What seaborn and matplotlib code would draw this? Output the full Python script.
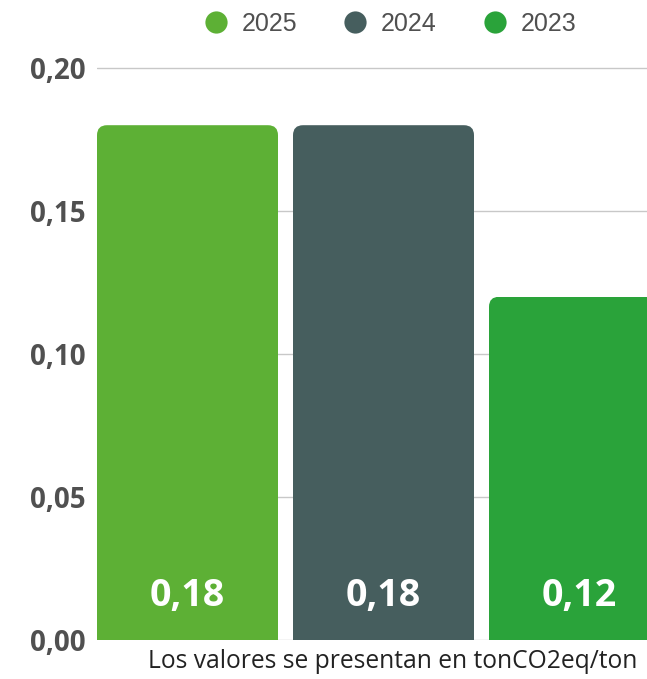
import matplotlib
matplotlib.use("Agg")
import matplotlib.pyplot as plt
import seaborn as sns
import pandas as pd
from matplotlib.patches import FancyBboxPatch
from matplotlib.transforms import IdentityTransform
from matplotlib.lines import Line2D
from matplotlib.ticker import FuncFormatter, MultipleLocator

# ---- data ----
years = ["2025", "2024", "2023"]
values = [0.18, 0.18, 0.12]
colors = ["#5db035", "#465e5e", "#2aa33a"]
note = "Los valores se presentan en tonCO2eq/ton"

sns.set_theme(style="white")
plt.rcParams["font.family"] = ["Open Sans", "DejaVu Sans"]

W, H = 647, 679
fig = plt.figure(figsize=(W / 100, H / 100), dpi=100)

ymax = 0.205
ax_left = 97 / W
ax_bottom = (H - 640) / H
ax_height = (572 * ymax / 0.2) / H
ax = fig.add_axes([ax_left, ax_bottom, 1 - ax_left, ax_height])

df = pd.DataFrame({"year": years, "value": values})
bar_w = 181 / 196
sns.barplot(data=df, x="year", y="value", hue="year", palette=colors,
            width=bar_w, legend=False, ax=ax, saturation=1, zorder=2)

x0 = -bar_w / 2
ax.set_xlim(x0, x0 + (W - 97) / 196)
ax.set_ylim(0, ymax)
ax.yaxis.set_major_locator(MultipleLocator(0.05))
ax.yaxis.set_major_formatter(FuncFormatter(lambda v, p: f"{v:.2f}".replace(".", ",")))
ax.grid(axis="y", color="#c8c8c8", linewidth=1, zorder=0)
ax.set_axisbelow(True)
for s in ax.spines.values():
    s.set_visible(False)
ax.set_xlabel("")
ax.set_ylabel("")
ax.set_xticks([])
ax.tick_params(axis="y", length=0, pad=8, labelsize=20, labelcolor="#505050")
for lbl in ax.get_yticklabels():
    lbl.set_fontweight("bold")

# rounded top corners via clip paths in display coords
fig.canvas.draw()
r = 10
for p in ax.patches:
    bb = p.get_window_extent()
    clip = FancyBboxPatch((bb.x0, bb.y0 - 3 * r), bb.width, bb.height + 3 * r,
                          boxstyle=f"round,pad=0,rounding_size={r}",
                          transform=IdentityTransform())
    p.set_clip_path(clip)
    p.set_edgecolor("none")

# value labels
for i, v in enumerate(values):
    ax.text(i, 0.0155, f"{v:.2f}".replace(".", ","), ha="center", va="center",
            color="white", fontsize=27, fontweight="bold")

# legend
handles = [Line2D([], [], marker="o", linestyle="none", markersize=16,
                  markerfacecolor=c, markeredgecolor="none") for c in colors]
fig.legend(handles, years, loc="center", bbox_to_anchor=(390 / W, 1 - 24 / H),
           ncol=3, frameon=False,
           prop={"family": ["Liberation Sans", "DejaVu Sans"], "size": 18},
           labelcolor="#505050", handlelength=0.95, handletextpad=0.55,
           columnspacing=1.85, borderpad=0, borderaxespad=0)

fig.text(637 / W, 1 - 662 / H, note, ha="right", va="center",
         fontsize=17.7, color="#222222")

fig.savefig("out.png", dpi=100)
